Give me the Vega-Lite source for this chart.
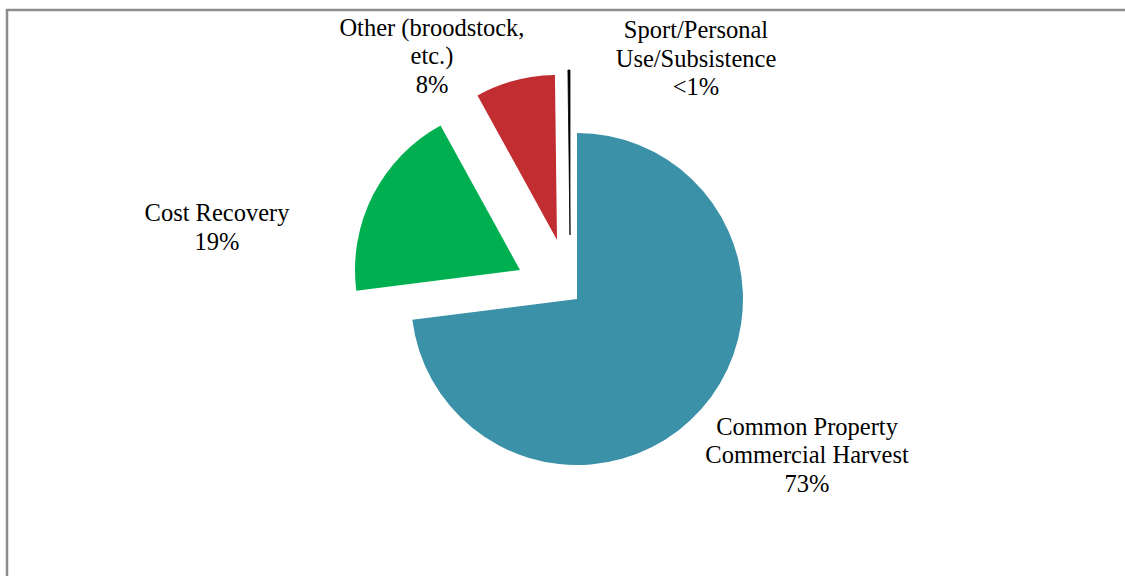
{
  "$schema": "https://vega.github.io/schema/vega-lite/v6.json",
  "width": 1140,
  "height": 578,
  "autosize": {"type": "none"},
  "padding": {"left": 7, "top": 10, "right": 0, "bottom": 0},
  "background": "white",
  "config": {
    "view": {"stroke": null},
    "text": {"font": "Liberation Serif"}
  },
  "data": {
    "values": [
      {"category": "Common Property Commercial Harvest", "key": "common", "value": 73.0, "order": 1, "lines": ["Common Property", "Commercial Harvest", "73%"]},
      {"category": "Cost Recovery", "key": "cost", "value": 19.0, "order": 2, "lines": ["Cost Recovery", "19%"]},
      {"category": "Other (broodstock, etc.)", "key": "other", "value": 7.8, "order": 3, "lines": ["Other (broodstock,", "etc.)", "8%"]},
      {"category": "Sport/Personal Use/Subsistence", "key": "sport", "value": 0.2, "order": 4, "lines": ["Sport/Personal", "Use/Subsistence", "<1%"]}
    ]
  },
  "transform": [
    {"stack": "value", "groupby": [], "sort": [{"field": "order"}], "as": ["v0", "v1"]}
  ],
  "layer": [
    {
      "transform": [{"filter": "datum.key === 'common'"}],
      "mark": {"type": "rect", "fill": null, "fillOpacity": 0, "stroke": "#8c8c8c", "strokeWidth": 2.5},
      "encoding": {}
    },
    {
      "transform": [{"filter": "datum.key === 'common'"}],
      "mark": {"type": "arc", "radius": 166},
      "encoding": {
        "theta": {"field": "v0", "type": "quantitative", "scale": {"domain": [0, 100]}},
        "theta2": {"field": "v1"},
        "color": {"field": "category", "type": "nominal", "legend": null,
          "scale": {"domain": ["Common Property Commercial Harvest", "Cost Recovery", "Other (broodstock, etc.)", "Sport/Personal Use/Subsistence"],
                    "range": ["#3a91a8", "#00b050", "#c12d30", "#000000"]}}
      }
    },
    {
      "transform": [{"filter": "datum.key === 'cost'"}],
      "mark": {"type": "arc", "radius": 165, "xOffset": -57, "yOffset": -29},
      "encoding": {
        "theta": {"field": "v0", "type": "quantitative", "scale": {"domain": [0, 100]}},
        "theta2": {"field": "v1"},
        "color": {"field": "category", "type": "nominal", "legend": null}
      }
    },
    {
      "transform": [{"filter": "datum.key === 'other'"}],
      "mark": {"type": "arc", "radius": 165, "xOffset": -20, "yOffset": -59},
      "encoding": {
        "theta": {"field": "v0", "type": "quantitative", "scale": {"domain": [0, 100]}},
        "theta2": {"field": "v1"},
        "color": {"field": "category", "type": "nominal", "legend": null}
      }
    },
    {
      "transform": [{"filter": "datum.key === 'sport'"}],
      "mark": {"type": "arc", "radius": 165, "xOffset": -7, "yOffset": -64, "stroke": "#000000", "strokeWidth": 0.8},
      "encoding": {
        "theta": {"field": "v0", "type": "quantitative", "scale": {"domain": [0, 100]}},
        "theta2": {"field": "v1"},
        "color": {"field": "category", "type": "nominal", "legend": null}
      }
    },
    {
      "mark": {"type": "text", "radius": 278, "dx": 21.5, "dy": -55, "fontSize": 24.5, "lineHeight": 28.5, "font": "Liberation Serif", "align": "center", "baseline": "middle", "color": "#000000"},
      "encoding": {
        "theta": {"field": "value", "type": "quantitative", "stack": true, "scale": {"domain": [0, 100]}},
        "order": {"field": "order"},
        "text": {"condition": {"test": "datum.key === 'common'", "field": "lines"}, "value": ""}
      }
    },
    {
      "mark": {"type": "text", "radius": 353.5, "dx": -45, "dy": 75.5, "fontSize": 24.5, "lineHeight": 28.5, "font": "Liberation Serif", "align": "center", "baseline": "middle", "color": "#000000"},
      "encoding": {
        "theta": {"field": "value", "type": "quantitative", "stack": true, "scale": {"domain": [0, 100]}},
        "order": {"field": "order"},
        "text": {"condition": {"test": "datum.key === 'cost'", "field": "lines"}, "value": ""}
      }
    },
    {
      "mark": {"type": "text", "radius": 271, "dx": -76, "dy": -8, "fontSize": 24.5, "lineHeight": 28.5, "font": "Liberation Serif", "align": "center", "baseline": "middle", "color": "#000000"},
      "encoding": {
        "theta": {"field": "value", "type": "quantitative", "stack": true, "scale": {"domain": [0, 100]}},
        "order": {"field": "order"},
        "text": {"condition": {"test": "datum.key === 'other'", "field": "lines"}, "value": ""}
      }
    },
    {
      "mark": {"type": "text", "radius": 240, "dx": 120.5, "dy": -28, "fontSize": 24.5, "lineHeight": 28.5, "font": "Liberation Serif", "align": "center", "baseline": "middle", "color": "#000000"},
      "encoding": {
        "theta": {"field": "value", "type": "quantitative", "stack": true, "scale": {"domain": [0, 100]}},
        "order": {"field": "order"},
        "text": {"condition": {"test": "datum.key === 'sport'", "field": "lines"}, "value": ""}
      }
    }
  ]
}
